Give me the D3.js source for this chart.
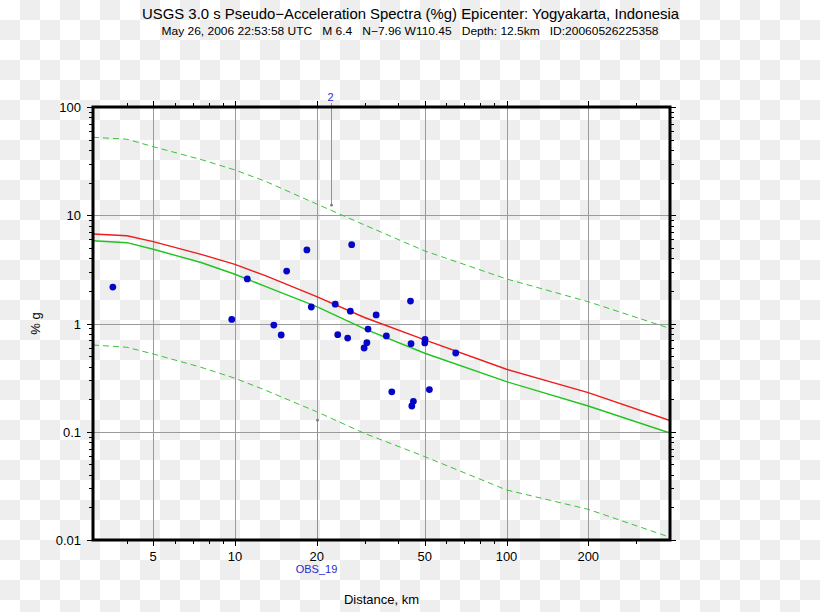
<!DOCTYPE html>
<html><head><meta charset="utf-8">
<script src="https://cdn.jsdelivr.net/npm/d3@7"></script>
<style>html,body{margin:0;padding:0;background:#fff;}svg{display:block;}</style>
</head><body>
<script>
// ---- data ----
const curveDistances = [3, 4, 5, 7.5, 10, 13, 20, 30, 50, 100, 200, 400];
const meanCurve   = [6.71, 6.47, 5.70, 4.35, 3.52, 2.75, 1.77, 1.136, 0.705, 0.378, 0.230, 0.127];
const medianCurve = [5.82, 5.58, 4.85, 3.66, 2.85, 2.19, 1.43, 0.893, 0.531, 0.290, 0.173, 0.0974];
const upperCurve  = [52.5, 50.4, 43.0, 32.7, 26.2, 20.5, 12.7, 8.13, 4.68, 2.58, 1.59, 0.90];
const lowerCurve  = [0.633, 0.603, 0.523, 0.394, 0.312, 0.241, 0.153, 0.0966, 0.0589, 0.029, 0.0192, 0.0106];

const stationDist = [3.55, 11.1, 15.5, 18.4, 26.9, 9.73, 13.9, 14.8, 19.1, 23.4, 26.6, 33.1, 44.3, 23.9,
  26.0, 30.9, 36.1, 30.6, 29.9, 44.5, 50.1, 50.0, 65.0, 37.8, 52.0, 45.4, 44.8];
const stationPga = [2.17, 2.58, 3.05, 4.78, 5.35, 1.09, 0.968, 0.783, 1.42, 1.51, 1.30, 1.20, 1.61, 0.788,
  0.734, 0.889, 0.767, 0.665, 0.594, 0.651, 0.714, 0.661, 0.534, 0.234, 0.245, 0.191, 0.173];

const flagLabels = ["2", "OBS_19"];
const flagDist = [22.5, 20.0];
const flagPga = [12.4, 0.128];
const flagSide = ["top", "bottom"];

const xMajorTicks = [5, 10, 20, 50, 100, 200];
const xTickLabels = ["5", "10", "20", "50", "100", "200"];
const yMajorTicks = [0.01, 0.1, 1, 10, 100];
const yTickLabels = ["0.01", "0.1", "1", "10", "100"];

const titleText = "USGS 3.0 s Pseudo\u2212Acceleration Spectra (%g) Epicenter: Yogyakarta, Indonesia";
const subtitleText = "May 26, 2006 22:53:58 UTC   M 6.4   N\u22127.96 W110.45   Depth: 12.5km   ID:20060526225358";

// ---- layout ----
const W = 820, H = 612;
const L = 93, R = 670, T = 107, B = 540;
const font = "'Liberation Sans', Arial, Helvetica, sans-serif";

const svg = d3.select("body").append("svg").attr("width", W).attr("height", H);
const defs = svg.append("defs");

// checkerboard background (transparent-style)
const cells = [];
for (let r = 0; r < Math.ceil(H / 20); r++)
  for (let c = 0; c < Math.ceil(W / 20); c++)
    if ((r + c) % 2 === 1) cells.push([c * 20, r * 20]);
svg.append("rect").attr("width", W).attr("height", H).attr("fill", "#ffffff");
svg.append("g").selectAll("rect").data(cells).join("rect")
  .attr("x", d => d[0]).attr("y", d => d[1]).attr("width", 20).attr("height", 20).attr("fill", "#eeeeee");

defs.append("clipPath").attr("id", "plotclip").append("rect")
  .attr("x", L).attr("y", T).attr("width", R - L).attr("height", B - T);

const x = d3.scaleLog().domain([3, 400]).range([L, R]);
const y = d3.scaleLog().domain([0.01, 100]).range([B, T]);

// grid
const grid = svg.append("g").attr("stroke", "#9a9a9a").attr("stroke-width", 1);
xMajorTicks.forEach(v => grid.append("line").attr("x1", Math.round(x(v)) + 0.5).attr("x2", Math.round(x(v)) + 0.5)
  .attr("y1", T).attr("y2", B));
yMajorTicks.filter(v => v > 0.01 && v < 100).forEach(v => grid.append("line")
  .attr("y1", Math.round(y(v)) + 0.5).attr("y2", Math.round(y(v)) + 0.5).attr("x1", L).attr("x2", R));

// minor ticks
const xMinor = [];
[1, 10, 100].forEach(k => d3.range(1, 10).forEach(m => { const v = m * k; if (v > 3 && v < 400 && !xMajorTicks.includes(v)) xMinor.push(v); }));
const yMinor = [];
[0.01, 0.1, 1, 10].forEach(k => d3.range(2, 10).forEach(m => yMinor.push(m * k)));

const ticks = svg.append("g").attr("stroke", "#000").attr("stroke-width", 1);
xMinor.forEach(v => {
  const px = Math.round(x(v)) + 0.5;
  ticks.append("line").attr("x1", px).attr("x2", px).attr("y1", B).attr("y2", B + 4);
  ticks.append("line").attr("x1", px).attr("x2", px).attr("y1", T).attr("y2", T - 4);
});
xMajorTicks.forEach(v => {
  const px = Math.round(x(v)) + 0.5;
  ticks.append("line").attr("x1", px).attr("x2", px).attr("y1", B).attr("y2", B + 6);
  ticks.append("line").attr("x1", px).attr("x2", px).attr("y1", T).attr("y2", T - 6);
});
yMinor.forEach(v => {
  const py = Math.round(y(v)) + 0.5;
  ticks.append("line").attr("y1", py).attr("y2", py).attr("x1", L).attr("x2", L - 4);
  ticks.append("line").attr("y1", py).attr("y2", py).attr("x1", R).attr("x2", R + 4);
});
yMajorTicks.forEach(v => {
  const py = Math.round(y(v)) + 0.5;
  ticks.append("line").attr("y1", py).attr("y2", py).attr("x1", L).attr("x2", L - 6);
  ticks.append("line").attr("y1", py).attr("y2", py).attr("x1", R).attr("x2", R + 6);
});

// curves
const plot = svg.append("g").attr("clip-path", "url(#plotclip)");
const line = d3.line().x(d => x(d[0])).y(d => y(d[1]));
function curve(vals, color, width, dash) {
  plot.append("path").datum(curveDistances.map((d, i) => [d, vals[i]]))
    .attr("d", line).attr("fill", "none").attr("stroke", color).attr("stroke-width", width)
    .attr("stroke-dasharray", dash || null);
}
curve(upperCurve, "#3cc23c", 1, "6,4");
curve(lowerCurve, "#3cc23c", 1, "6,4");
curve(medianCurve, "#1fc41f", 1.4);
curve(meanCurve, "#ee1c1c", 1.4);

// flags
const flags = svg.append("g");
flagLabels.forEach((lab, i) => {
  const px = Math.round(x(flagDist[i])) + 0.5, py = y(flagPga[i]);
  const yEnd = flagSide[i] === "top" ? T - 4 : B;
  flags.append("line").attr("x1", px).attr("x2", px).attr("y1", py).attr("y2", yEnd)
    .attr("stroke", "#8c8cb4").attr("stroke-width", 1);
  flags.append("circle").attr("cx", px).attr("cy", py).attr("r", 1.3).attr("fill", "#777");
  flags.append("text").attr("x", px - 1).attr("y", flagSide[i] === "top" ? T - 6 : B + 33)
    .attr("text-anchor", "middle").attr("font-family", font).attr("font-size", 11)
    .attr("fill", "#2a2ad2").text(lab);
});

// stations
svg.append("g").selectAll("circle").data(stationDist.map((d, i) => [d, stationPga[i]])).join("circle")
  .attr("cx", d => x(d[0])).attr("cy", d => y(d[1])).attr("r", 3.4).attr("fill", "#0505c8");

// frame
svg.append("rect").attr("x", L).attr("y", T).attr("width", R - L).attr("height", B - T)
  .attr("fill", "none").attr("stroke", "#000").attr("stroke-width", 3);

// tick labels
const lbl = svg.append("g").attr("font-family", font).attr("font-size", 13).attr("fill", "#000");
xMajorTicks.forEach((v, i) => lbl.append("text").attr("x", x(v)).attr("y", B + 21)
  .attr("text-anchor", "middle").text(xTickLabels[i]));
yMajorTicks.forEach((v, i) => lbl.append("text").attr("x", L - 12).attr("y", y(v) + 5)
  .attr("text-anchor", "end").text(yTickLabels[i]));

// axis titles
svg.append("text").attr("x", (L + R) / 2).attr("y", 604).attr("text-anchor", "middle")
  .attr("font-family", font).attr("font-size", 13).text("Distance, km");
svg.append("text").attr("transform", `translate(40,${(T + B) / 2}) rotate(-90)`).attr("text-anchor", "middle")
  .attr("font-family", font).attr("font-size", 13).text("% g");

// titles
svg.append("text").attr("x", 410.5).attr("y", 19).attr("text-anchor", "middle")
  .attr("font-family", font).attr("font-size", 14.5).attr("textLength", 537).attr("lengthAdjust", "spacingAndGlyphs")
  .text(titleText);
svg.append("text").attr("x", 410).attr("y", 35).attr("text-anchor", "middle").attr("xml:space", "preserve")
  .style("white-space", "pre")
  .attr("font-family", font).attr("font-size", 11).attr("textLength", 497).attr("lengthAdjust", "spacingAndGlyphs")
  .text(subtitleText);
</script>
</body></html>
